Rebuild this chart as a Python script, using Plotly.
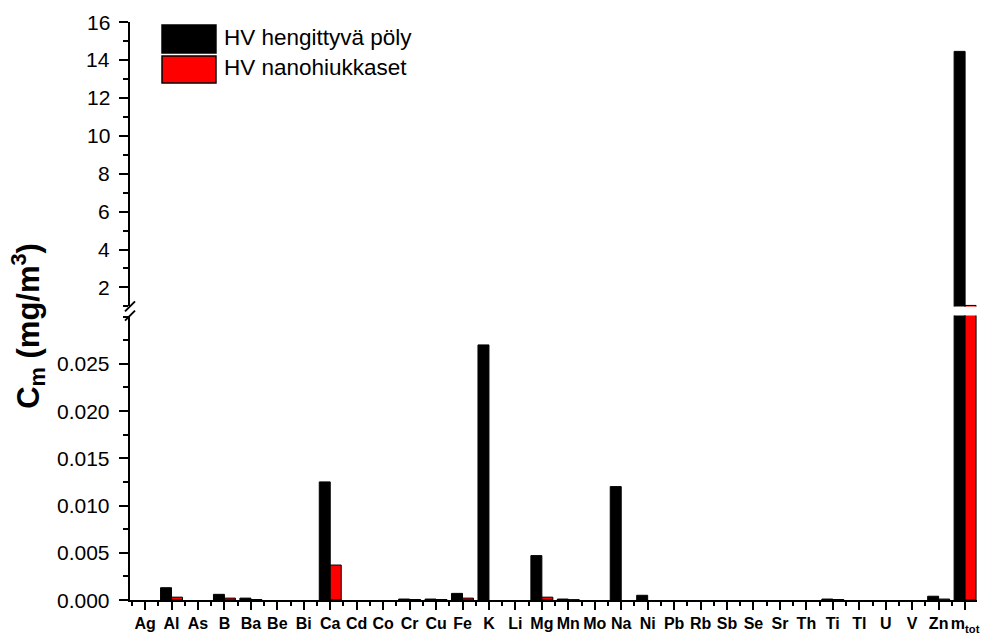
import plotly.graph_objects as go

categories = ["Ag", "Al", "As", "B", "Ba", "Be", "Bi", "Ca", "Cd", "Co", "Cr", "Cu", "Fe", "K", "Li",
              "Mg", "Mn", "Mo", "Na", "Ni", "Pb", "Rb", "Sb", "Se", "Sr", "Th", "Ti", "Tl", "U", "V",
              "Zn", "m<sub>tot</sub>"]
hengittyva = [0, 0.0013, 0, 0.0006, 0.0002, 0, 0, 0.0125, 0, 0, 0.0001, 0.0001, 0.0007, 0.0270, 0,
              0.0047, 0.0001, 0, 0.0120, 0.0005, 0, 0, 0, 0, 0, 0, 0.0001, 0, 0, 0,
              0.0004, 14.45]
nano = [0, 0.0003, 0, 0.0002, 0.00005, 0, 0, 0.0037, 0, 0, 0.00005, 0.00005, 0.0002, 0, 0,
        0.0003, 0.00003, 0, 0, 0, 0, 0, 0, 0, 0, 0, 0.00005, 0, 0, 0,
        0.0001, 1.05]
series_names = ["HV hengittyvä pöly", "HV nanohiukkaset"]
series_colors = ["#000000", "#ff0000"]

lower_range = [0, 0.0301]
upper_range = [1, 16]
lower_ticks = [0, 0.005, 0.010, 0.015, 0.020, 0.025]
upper_ticks = [2, 4, 6, 8, 10, 12, 14, 16]

xpos = list(range(len(categories)))
FONT = "Arial, Liberation Sans, sans-serif"

fig = go.Figure()
for vals, name, col in zip([hengittyva, nano], series_names, series_colors):
    fig.add_trace(go.Bar(x=xpos, y=[v if v > 0 else None for v in vals], name=name,
                         marker=dict(color=col, line=dict(color="#000", width=1)),
                         xaxis="x", yaxis="y", showlegend=False, offsetgroup=name))
    fig.add_trace(go.Bar(x=xpos, y=[v if v > upper_range[0] else None for v in vals], name=name,
                         marker=dict(color=col, line=dict(color="#000", width=1)),
                         xaxis="x", yaxis="y2", showlegend=False, offsetgroup=name))

lo_dom = [0, 0.492]
up_dom = [0.508, 1]
axcommon = dict(showline=True, linecolor="black", linewidth=2, ticks="outside", tickwidth=2,
                tickcolor="black", showgrid=False, zeroline=False, automargin=False)
fig.update_layout(
    width=981, height=637, margin=dict(l=130, r=4, t=22, b=37),
    paper_bgcolor="white", plot_bgcolor="white",
    barmode="group", bargap=0.17, bargroupgap=0,
    font=dict(family=FONT, color="black"),
    xaxis=dict(range=[-0.57, 31.45], tickvals=xpos, ticktext=categories, ticklen=8, tickangle=0,
               tickfont=dict(size=16, weight="bold", family=FONT),
               minor=dict(tick0=0.5, dtick=1, ticklen=4, tickwidth=2, tickcolor="black", ticks="outside"),
               anchor="y", **axcommon),
    yaxis=dict(domain=lo_dom, range=lower_range, tickvals=lower_ticks, ticklen=9, showticklabels=False,
               minor=dict(dtick=0.0025, tick0=0, ticklen=5, tickwidth=2, tickcolor="black", ticks="outside"),
               anchor="x", **axcommon),
    yaxis2=dict(domain=up_dom, range=upper_range, tickvals=upper_ticks, ticklen=9, showticklabels=False,
                minor=dict(dtick=1, tick0=0, ticklen=5, tickwidth=2, tickcolor="black", ticks="outside"),
                anchor="x", **axcommon),
)

# y tick labels placed through the axis scales
for t in lower_ticks:
    fig.add_annotation(xref="paper", x=0, yref="y", y=t, text=f"{t:.3f}", showarrow=False,
                       xanchor="right", yanchor="middle", xshift=-18, font=dict(size=21, family=FONT))
for t in upper_ticks:
    fig.add_annotation(xref="paper", x=0, yref="y2", y=t, text=f"{t:d}", showarrow=False,
                       xanchor="right", yanchor="middle", xshift=-18, font=dict(size=21, family=FONT))

# axis break marks
for yanc in [up_dom[0], lo_dom[1]]:
    fig.add_shape(type="line", xref="paper", yref="paper", xsizemode="pixel", ysizemode="pixel",
                  xanchor=0, yanchor=yanc, x0=-5, x1=5, y0=-5, y1=5,
                  line=dict(color="black", width=2))

# legend drawn as boxes + labels
leg_boxes = [[0.995, 0.9465], [0.941, 0.8946]]
for (yt, yb), name, col in zip(leg_boxes, series_names, series_colors):
    fig.add_shape(type="rect", xref="paper", yref="paper", x0=0.0378, x1=0.1015, y0=yb, y1=yt,
                  fillcolor=col, line=dict(color="black", width=1.5))
    fig.add_annotation(xref="paper", yref="paper", x=0.109, y=(yt + yb) / 2 + 0.003, text=name,
                       showarrow=False, xanchor="left", yanchor="middle", font=dict(size=22.5, family=FONT))

fig.add_annotation(xref="paper", yref="paper", x=-0.12, y=0.475, textangle=-90,
                   text="<b>C<sub>m</sub> (mg/m<sup>3</sup>)</b>", showarrow=False,
                   xanchor="center", yanchor="middle", font=dict(size=31, family=FONT))

fig.write_html("out.html", config={"displayModeBar": False},
               post_script="document.body.style.margin='0';document.body.style.padding='0';")
